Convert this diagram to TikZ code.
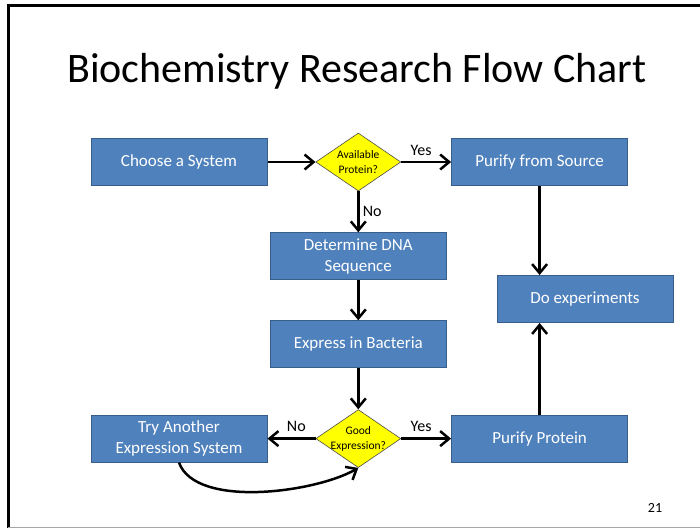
\documentclass[tikz,border=0pt]{standalone}
\usepackage{fontspec}
\setmainfont{Carlito}
\usetikzlibrary{shapes.geometric, arrows.meta, positioning}
\definecolor{cBox}{HTML}{4F81BD}
\definecolor{cEdge}{HTML}{385D8A}
\definecolor{cDec}{HTML}{FFFF00}
\tikzstyle{box}   = [rectangle, draw=cEdge, line width=1pt, fill=cBox, text=white, align=center, minimum width=176pt, minimum height=47pt, font=\fontsize{17}{21}\selectfont]
\tikzstyle{dec}   = [diamond, aspect=1.47, draw=black!70, line width=0.6pt, fill=cDec, minimum width=85pt, minimum height=58pt, inner sep=-8pt, align=center, font=\fontsize{11.5}{15}\selectfont]
\tikzstyle{lbl}   = [font=\fontsize{16}{18}\selectfont]
\tikzstyle{arrow} = [line width=2.5pt, -{Straight Barb[length=9pt,width=15pt]}]

\begin{document}
\begin{tikzpicture}[x=1pt, y=-1pt]
\useasboundingbox (0,0) rectangle (700,528);
% slide frame
\draw[line width=3pt] (8,528) -- (8,5) -- (700,5);
\draw[black!35, line width=0.8pt] (8,527) -- (700,527);

\node (title) at (357,71) {\fontsize{42}{48}\selectfont Biochemistry Research Flow Chart};
\node (choose) [box] at (179,162) {Choose a System};
\node (avail) [dec, right=48pt of choose] {Available\\Protein?};
\node (source) [box, right=50pt of avail] {Purify from Source};
\node (dna) [box, below=41pt of avail] {Determine DNA\\Sequence};
\node (bacteria) [box, below=40pt of dna] {Express in Bacteria};
\node (good) [dec, below=41pt of bacteria] {Good\\Expression?};
\node (try) [box, left=48pt of good] {Try Another\\Expression System};
\node (protein) [box, right=50pt of good] {Purify Protein};
\node (exper) [box] at (585,299) {Do experiments};
\node (page) at (655,508) {\fontsize{14}{16}\selectfont 21};

\draw [arrow] (choose) -- (avail);
\draw [arrow] (avail) -- node[pos=0.4,above=2pt,lbl]{Yes} (source);
\draw [arrow] (avail) -- node[right,lbl]{No} (dna);
\draw [arrow] (dna) -- (bacteria);
\draw [arrow] (bacteria) -- (good);
\draw [arrow] (good) -- node[pos=0.4,above=2pt,lbl]{No} (try);
\draw [arrow] (good) -- node[pos=0.4,above=2pt,lbl]{Yes} (protein);
\draw [arrow] (source) -- (source |- exper.north);
\draw [arrow] (protein) -- (protein |- exper.south);
\draw [arrow] (try.south) to[out=-70, in=-150, looseness=0.7] (good.south);
\end{tikzpicture}
\end{document}
